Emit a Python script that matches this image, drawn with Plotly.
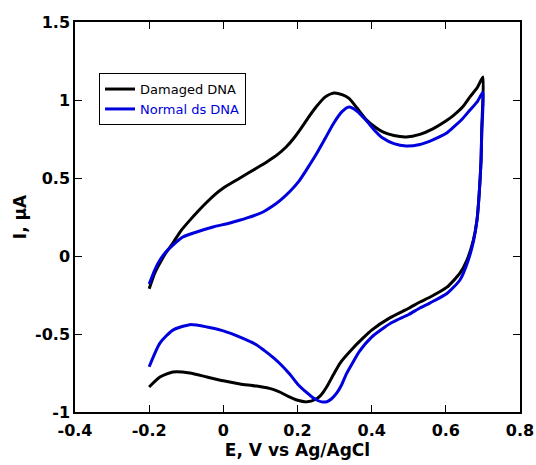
import plotly.graph_objects as go

# Damaged DNA (forward scan then reverse scan)
damaged_E = [-0.2, -0.185, -0.171, -0.155, -0.136, -0.115, -0.09, -0.067, -0.044, -0.022, 0.0, 0.045,
             0.09, 0.12, 0.145, 0.17, 0.19, 0.21, 0.23, 0.25, 0.275, 0.298, 0.32, 0.339, 0.36, 0.385,
             0.41, 0.43, 0.46, 0.493, 0.53, 0.565, 0.6, 0.62, 0.645, 0.665, 0.685, 0.7,
             0.699, 0.697, 0.695, 0.69, 0.684, 0.674, 0.657, 0.638, 0.603, 0.558, 0.53, 0.5, 0.45, 0.4,
             0.375, 0.35, 0.315, 0.297, 0.279, 0.262, 0.248, 0.226, 0.198, 0.175, 0.155, 0.134, 0.09,
             0.045, 0.0, -0.044, -0.09, -0.136, -0.171, -0.2]
damaged_I = [-0.21, -0.11, -0.045, 0.02, 0.083, 0.16, 0.23, 0.29, 0.346, 0.395, 0.436, 0.50,
             0.564, 0.608, 0.648, 0.70, 0.755, 0.82, 0.89, 0.955, 1.02, 1.045, 1.035, 1.01, 0.95, 0.875,
             0.825, 0.795, 0.772, 0.763, 0.78, 0.815, 0.865, 0.90, 0.955, 1.02, 1.08, 1.147,
             0.95, 0.827, 0.615, 0.40, 0.23, 0.10, -0.026, -0.11, -0.20, -0.263, -0.295, -0.335, -0.395, -0.475,
             -0.53, -0.59, -0.686, -0.76, -0.838, -0.895, -0.92, -0.935, -0.923, -0.90, -0.875, -0.855, -0.834,
             -0.82, -0.80, -0.776, -0.75, -0.744, -0.776, -0.84]

# Normal ds DNA (forward scan then reverse scan)
normal_E = [-0.2, -0.185, -0.171, -0.155, -0.136, -0.109, -0.072, -0.028, 0.018, 0.064, 0.107, 0.13,
            0.155, 0.18, 0.204, 0.225, 0.25, 0.275, 0.296, 0.32, 0.339, 0.36, 0.385, 0.41, 0.43, 0.46,
            0.493, 0.53, 0.565, 0.6, 0.62, 0.645, 0.665, 0.685, 0.7,
            0.699, 0.697, 0.695, 0.69, 0.684, 0.675, 0.66, 0.638, 0.603, 0.558, 0.53, 0.5, 0.452, 0.4,
            0.366, 0.35, 0.331, 0.318, 0.306, 0.292, 0.279, 0.265, 0.252, 0.24, 0.226, 0.2, 0.18, 0.157,
            0.134, 0.11, 0.09, 0.045, 0.0, -0.044, -0.09, -0.136, -0.171, -0.2]
normal_I = [-0.18, -0.09, -0.026, 0.025, 0.07, 0.122, 0.154, 0.186, 0.212, 0.244, 0.282, 0.315,
            0.36, 0.415, 0.48, 0.555, 0.65, 0.755, 0.845, 0.925, 0.955, 0.93, 0.87, 0.80, 0.756, 0.72,
            0.705, 0.715, 0.745, 0.785, 0.825, 0.88, 0.936, 0.99, 1.05,
            0.9, 0.8, 0.615, 0.40, 0.23, 0.10, -0.03, -0.154, -0.24, -0.30, -0.333, -0.375, -0.43, -0.52,
            -0.615, -0.68, -0.76, -0.83, -0.878, -0.915, -0.934, -0.935, -0.923, -0.905, -0.878, -0.82,
            -0.76, -0.70, -0.65, -0.605, -0.57, -0.52, -0.48, -0.455, -0.44, -0.475, -0.558, -0.71]

x_ticks = [-0.4, -0.2, 0, 0.2, 0.4, 0.6, 0.8]
x_labels = ["-0.4", "-0.2", "0", "0.2", "0.4", "0.6", "0.8"]
y_ticks = [-1, -0.5, 0, 0.5, 1, 1.5]
y_labels = ["-1", "-0.5", "0", "0.5", "1", "1.5"]

BLUE = "#0000dd"
FONT = "DejaVu Sans"

fig = go.Figure()
fig.add_trace(go.Scatter(x=damaged_E, y=damaged_I, mode="lines", name="Damaged DNA",
                         line=dict(color="black", width=3, shape="spline", smoothing=0.6)))
fig.add_trace(go.Scatter(x=normal_E, y=normal_I, mode="lines",
                         name=f"<span style='color:{BLUE}'>Normal ds DNA</span>",
                         line=dict(color=BLUE, width=3, shape="spline", smoothing=0.6)))

axis_common = dict(showline=True, linecolor="black", linewidth=1.5, mirror="ticks",
                   ticks="inside", ticklen=7, tickwidth=1.2, tickcolor="black",
                   showgrid=False, zeroline=False, automargin=False,
                   tickfont=dict(family=FONT, size=16, color="black"))

fig.update_layout(
    width=536, height=465,
    margin=dict(l=75, r=16, t=22, b=53),
    paper_bgcolor="white", plot_bgcolor="white",
    xaxis=dict(range=[-0.4, 0.8], tickvals=x_ticks, ticktext=[f"<b>{t}</b>" for t in x_labels],
               ticklabelstandoff=3,
               title=dict(text="<b>E, V vs Ag/AgCl</b>", standoff=0,
                          font=dict(family=FONT, size=17, color="black")),
               **axis_common),
    yaxis=dict(range=[-1, 1.5], tickvals=y_ticks, ticktext=[f"<b>{t}</b>" for t in y_labels],
               title=dict(text="<b>I, μA</b>", standoff=4,
                          font=dict(family=FONT, size=17, color="black")),
               **axis_common),
    legend=dict(x=0.054, y=0.869, xanchor="left", yanchor="top",
                bordercolor="black", borderwidth=1, bgcolor="white",
                font=dict(family=FONT, size=13, color="black"),
                tracegroupgap=0),
    showlegend=True,
)

fig.write_html("out.html", config={"displayModeBar": False},
               post_script="document.body.style.margin='0';document.body.style.padding='0';")
